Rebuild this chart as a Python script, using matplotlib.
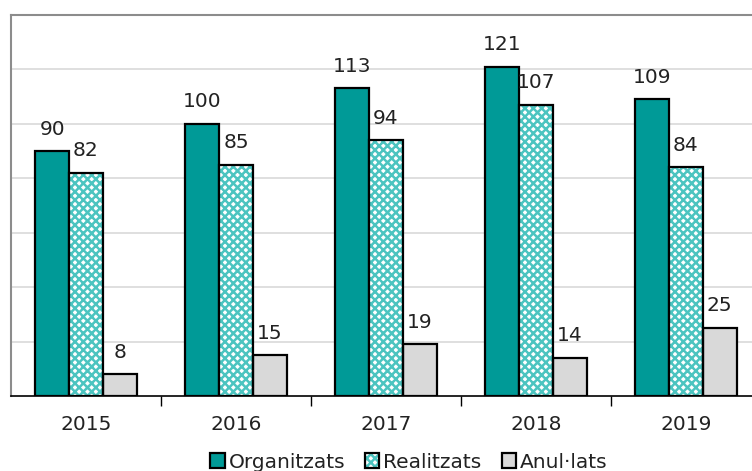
import matplotlib
matplotlib.use("Agg")
import matplotlib.pyplot as plt
import numpy as np
from matplotlib.patches import Patch

years = ["2015", "2016", "2017", "2018", "2019"]
organitzats = [90, 100, 113, 121, 109]
realitzats = [82, 85, 94, 107, 84]
anullats = [8, 15, 19, 14, 25]
series_names = ["Organitzats", "Realitzats", "Anul·lats"]

plt.rcParams['font.family'] = ['DejaVu Sans']
plt.rcParams['hatch.linewidth'] = 1.8

teal = '#009a97'
hatch_col = '#4cc4c0'
gray = '#d9d9d9'
txt = '#222222'
fs = 14.5

fig = plt.figure(figsize=(7.52, 4.71), dpi=100)
ax = fig.add_axes([11/752, 1-396/471, 750/752, (396-15)/471])

x = np.arange(len(years))
w = 0.225

b1 = ax.bar(x - w, organitzats, w, color=teal, edgecolor='black', linewidth=1.6, zorder=3)
ax.bar(x, realitzats, w, color='white', edgecolor=hatch_col, hatch='xxxx', linewidth=0, zorder=3)
b2 = ax.bar(x, realitzats, w, fill=False, edgecolor='black', linewidth=1.6, zorder=4)
b3 = ax.bar(x + w, anullats, w, color=gray, edgecolor='black', linewidth=1.6, zorder=3)

for bars, vals in ((b1, organitzats), (b2, realitzats), (b3, anullats)):
    for rect, v in zip(bars, vals):
        ax.annotate(str(v), (rect.get_x() + rect.get_width()/2, v),
                    xytext=(0, 9), textcoords='offset points',
                    ha='center', va='bottom', fontsize=fs, color=txt, zorder=5)

ax.set_xlim(-0.5, 4.5)
ax.set_ylim(0, 140)
ax.set_yticks(np.arange(20, 121, 20))
ax.yaxis.grid(True, color='#d9d9d9', linewidth=1.2, zorder=0)
ax.tick_params(axis='y', length=0, labelleft=False)

ax.set_xticks(x)
ax.set_xticklabels(years, fontsize=fs, color=txt)
ax.set_xticks(np.arange(0.5, 4.5, 1), minor=True)
ax.tick_params(axis='x', which='major', length=0, pad=14)
ax.tick_params(axis='x', which='minor', length=7, width=1, direction='out', color='black')

ax.spines['right'].set_visible(False)
ax.spines['left'].set_color('#8c8c8c')
ax.spines['top'].set_color('#8c8c8c')
ax.spines['top'].set_linewidth(1.5)
ax.spines['left'].set_linewidth(1.5)
ax.spines['bottom'].set_color('black')
ax.spines['bottom'].set_linewidth(1.2)

handles = [
    Patch(facecolor=teal, edgecolor='black', linewidth=1.6),
    Patch(facecolor='white', edgecolor=hatch_col, hatch='xxxx', linewidth=0),
    Patch(facecolor=gray, edgecolor='black', linewidth=1.6),
]
hatch_border = Patch(fill=False, edgecolor='black', linewidth=1.6)
leg = fig.legend([handles[0], (handles[1], hatch_border), handles[2]], series_names,
                 loc='center', bbox_to_anchor=(409/752, 1-462/471), ncol=3,
                 frameon=False, fontsize=fs, handlelength=0.7, handleheight=0.7,
                 handletextpad=0.2, columnspacing=1.0, borderpad=0, labelcolor=txt)

fig.savefig('out.png', dpi=100)
